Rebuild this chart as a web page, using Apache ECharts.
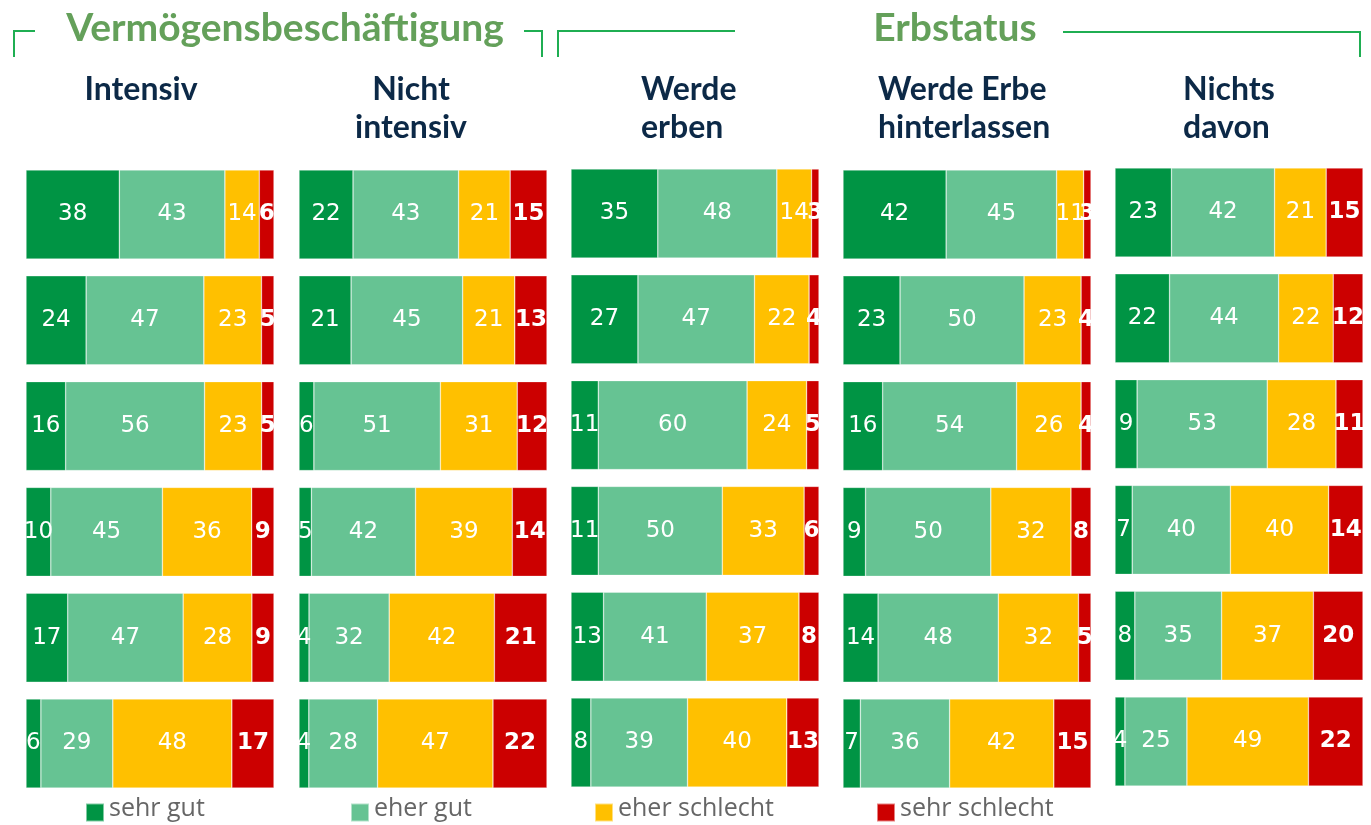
<!DOCTYPE html>
<html>
<head>
<meta charset="utf-8">
<script src="https://cdn.jsdelivr.net/npm/echarts@6/dist/echarts.min.js"></script>
<style>
  html, body { margin: 0; padding: 0; background: #fff; }
  #main { width: 1371px; height: 825px; }
</style>
</head>
<body>
<div id="main"></div>
<script>
// Kategorien (Legende) und Farben
var categories = ['sehr gut', 'eher gut', 'eher schlecht', 'sehr schlecht'];
var colors = ['#009444', '#66c393', '#ffc000', '#cc0000'];

// Überschriften
var groupTitles = ['Vermögensbeschäftigung', 'Erbstatus'];
var panelTitles = ['Intensiv', 'Nicht\nintensiv', 'Werde\nerben', 'Werde Erbe\nhinterlassen', 'Nichts\ndavon'];

// Werte je Teilgrafik: Zeilen von oben nach unten, [sehr gut, eher gut, eher schlecht, sehr schlecht]
var intensiv = [[38, 43, 14, 6], [24, 47, 23, 5], [16, 56, 23, 5], [10, 45, 36, 9], [17, 47, 28, 9], [6, 29, 48, 17]];
var nichtIntensiv = [[22, 43, 21, 15], [21, 45, 21, 13], [6, 51, 31, 12], [5, 42, 39, 14], [4, 32, 42, 21], [4, 28, 47, 22]];
var werdeErben = [[35, 48, 14, 3], [27, 47, 22, 4], [11, 60, 24, 5], [11, 50, 33, 6], [13, 41, 37, 8], [8, 39, 40, 13]];
var erbeHinterlassen = [[42, 45, 11, 3], [23, 50, 23, 4], [16, 54, 26, 4], [9, 50, 32, 8], [14, 48, 32, 5], [7, 36, 42, 15]];
var nichtsDavon = [[23, 42, 21, 15], [22, 44, 22, 12], [9, 53, 28, 11], [7, 40, 40, 14], [8, 35, 37, 20], [4, 25, 49, 22]];

var panels = [intensiv, nichtIntensiv, werdeErben, erbeHinterlassen, nichtsDavon];
var rowNames = ['1', '2', '3', '4', '5', '6'];

var panelLeft = [26, 299, 571, 843, 1115];
var panelTop = [170, 170, 169, 170, 168];
var pitch = 105.8;
var barH = 89;

var chart = echarts.init(document.getElementById('main'));

var grids = [], xAxes = [], yAxes = [], series = [];
panels.forEach(function (rows, p) {
    grids.push({
        left: panelLeft[p],
        width: 248,
        top: panelTop[p] - (pitch - barH) / 2,
        height: pitch * 6
    });
    xAxes.push({ gridIndex: p, type: 'value', min: 0, max: 100, show: false });
    yAxes.push({ gridIndex: p, type: 'category', data: rowNames, inverse: true, show: false });
    categories.forEach(function (cat, c) {
        series.push({
            name: cat,
            type: 'bar',
            stack: 'p' + p,
            xAxisIndex: p,
            yAxisIndex: p,
            barWidth: barH,
            itemStyle: { color: colors[c], borderColor: 'rgba(255,255,255,0.5)', borderWidth: 0.6 },
            label: {
                show: true,
                position: 'inside',
                color: '#fff',
                fontFamily: 'DejaVu Sans',
                fontSize: 23,
                fontWeight: c === 3 ? 'bold' : 'normal',
                formatter: function (d) { return d.data.raw; }
            },
            silent: true,
            data: rows.map(function (r) {
                var sum = r[0] + r[1] + r[2] + r[3];
                return { value: r[c] / sum * 100, raw: r[c] };
            })
        });
    });
});

var titleStyleMain = { color: '#64a05a', fontFamily: 'Lato', fontWeight: 'bold', fontSize: 39 };
var titleStyleSub = { color: '#0c2947', fontFamily: 'Lato', fontWeight: 'bold', fontSize: 32, lineHeight: 38 };

var titles = [
    { text: groupTitles[0], left: 285, top: 9, padding: 0, textAlign: 'center', textStyle: titleStyleMain },
    { text: groupTitles[1], left: 955, top: 9, padding: 0, textAlign: 'center', textStyle: titleStyleMain },
    { text: panelTitles[0], left: 141, top: 71, padding: 0, textAlign: 'center', textStyle: titleStyleSub },
    { text: panelTitles[1], left: 411, top: 71, padding: 0, textAlign: 'center', textStyle: titleStyleSub },
    { text: panelTitles[2], left: 641, top: 71, padding: 0, textAlign: 'left', textStyle: titleStyleSub },
    { text: panelTitles[3], left: 878, top: 71, padding: 0, textAlign: 'left', textStyle: titleStyleSub },
    { text: panelTitles[4], left: 1183, top: 71, padding: 0, textAlign: 'left', textStyle: titleStyleSub }
];

var legendLeft = [85, 350, 594, 876];
var legends = categories.map(function (cat, c) {
    return {
        data: [cat],
        left: legendLeft[c],
        top: 796,
        padding: 0,
        icon: 'rect',
        itemWidth: 18,
        itemHeight: 18,
        itemGap: 0,
        selectedMode: false,
        formatter: '{t|{name}}',
        textStyle: {
            rich: {
                t: { color: '#666', fontFamily: 'Open Sans', fontSize: 25, lineHeight: 30, padding: [0, 0, 8, 0] }
            }
        }
    };
});

var lineStyle = { stroke: '#1fae52', lineWidth: 2, fill: null };
function poly(points) {
    return { type: 'polyline', shape: { points: points }, style: lineStyle, silent: true };
}

var option = {
    backgroundColor: '#fff',
    animation: false,
    title: titles,
    legend: legends,
    grid: grids,
    xAxis: xAxes,
    yAxis: yAxes,
    series: series,
    graphic: [
        poly([[14, 57], [14, 31], [35, 31]]),
        poly([[524, 31], [542, 31], [542, 57]]),
        poly([[558, 57], [558, 31], [735, 31]]),
        poly([[1063, 32], [1360, 32], [1360, 57]])
    ]
};
chart.setOption(option);

window.onresize = function () {
    chart.resize();
};
</script>
</body>
</html>
